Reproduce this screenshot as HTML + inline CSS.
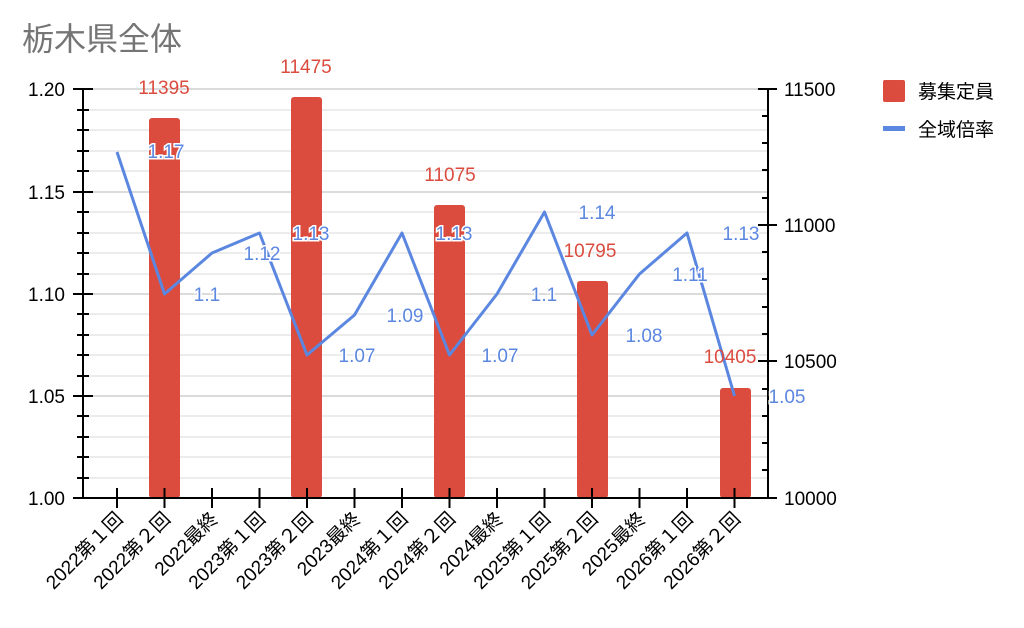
<!DOCTYPE html><html><head><meta charset="utf-8"><style>body{margin:0;background:#fff}svg{display:block}text{font-family:"Liberation Sans","Noto Sans CJK JP",sans-serif}</style></head><body>
<svg width="1024" height="628" xmlns="http://www.w3.org/2000/svg">
<text x="22" y="50" font-size="32" fill="#757575">栃木県全体</text>
<g stroke="#e0e0e0" stroke-width="1.3">
<line x1="83" x2="768" y1="110" y2="110"/><line x1="83" x2="768" y1="130" y2="130"/><line x1="83" x2="768" y1="151" y2="151"/><line x1="83" x2="768" y1="171" y2="171"/><line x1="83" x2="768" y1="212" y2="212"/><line x1="83" x2="768" y1="233" y2="233"/><line x1="83" x2="768" y1="253" y2="253"/><line x1="83" x2="768" y1="274" y2="274"/><line x1="83" x2="768" y1="314" y2="314"/><line x1="83" x2="768" y1="335" y2="335"/><line x1="83" x2="768" y1="355" y2="355"/><line x1="83" x2="768" y1="376" y2="376"/><line x1="83" x2="768" y1="416" y2="416"/><line x1="83" x2="768" y1="437" y2="437"/><line x1="83" x2="768" y1="457" y2="457"/><line x1="83" x2="768" y1="478" y2="478"/>
</g>
<g stroke="#cfcfcf" stroke-width="1.5"><line x1="83" x2="768" y1="89" y2="89"/><line x1="83" x2="768" y1="192" y2="192"/><line x1="83" x2="768" y1="294" y2="294"/><line x1="83" x2="768" y1="396" y2="396"/></g>
<g fill="#db4c3f">
<rect x="149" y="118" width="31" height="380" rx="3"/>
<rect x="291" y="97" width="31" height="401" rx="3"/>
<rect x="434" y="205" width="31" height="293" rx="3"/>
<rect x="577" y="281" width="31" height="217" rx="3"/>
<rect x="720" y="388" width="31" height="110" rx="3"/>
</g>
<g stroke="#000" stroke-width="2" fill="none">
<line x1="83" y1="89" x2="83" y2="498"/><line x1="768" y1="89" x2="768" y2="498"/><line x1="83" y1="498" x2="768" y2="498"/>
<path d="M73 89H93M73 192H93M73 294H93M73 396H93M73 498H93M77 110H89M77 130H89M77 151H89M77 171H89M77 212H89M77 233H89M77 253H89M77 274H89M77 314H89M77 335H89M77 355H89M77 376H89M77 416H89M77 437H89M77 457H89M77 478H89"/>
<path d="M758 89H777M758 225H777M758 361H777M758 498H777M762 116H768M762 143H768M762 170H768M762 198H768M762 252H768M762 279H768M762 307H768M762 334H768M762 389H768M762 416H768M762 443H768M762 470H768"/>
<path d="M117 488V508M164.5 488V508M212 488V508M259.5 488V508M307 488V508M354.5 488V508M402 488V508M449.5 488V508M497 488V508M544.5 488V508M592 488V508M639.5 488V508M687 488V508M734.5 488V508"/>
</g>
<polyline fill="none" stroke="#5b87e0" stroke-width="3" stroke-linejoin="round" points="117,152 164.5,294 212,253 259.5,233 307,355 354.5,315 402,233 449.5,355 497,294 544.5,212 592,335 639.5,274 687,233 734.5,396"/>
<g font-size="19" fill="#000">
<text x="65" y="96" text-anchor="end">1.20</text><text x="65" y="199" text-anchor="end">1.15</text><text x="65" y="301" text-anchor="end">1.10</text><text x="65" y="403" text-anchor="end">1.05</text><text x="65" y="505" text-anchor="end">1.00</text>
<text x="784" y="96">11500</text><text x="784" y="232">11000</text><text x="784" y="368">10500</text><text x="784" y="505">10000</text>
</g>
<g font-size="19" fill="#db4c3f" text-anchor="middle">
<text x="164" y="94">11395</text><text x="306" y="73">11475</text><text x="450" y="181">11075</text><text x="590" y="257">10795</text><text x="730" y="363">10405</text>
</g>
<g font-size="19" fill="#5b87e0" text-anchor="middle" stroke="#fff" stroke-width="3" paint-order="stroke">
<text x="166" y="158">1.17</text><text x="207" y="301">1.1</text><text x="262" y="260">1.12</text><text x="311" y="240">1.13</text><text x="357" y="362">1.07</text><text x="405" y="322">1.09</text><text x="454" y="240">1.13</text><text x="500" y="362">1.07</text><text x="544" y="301">1.1</text><text x="597" y="219">1.14</text><text x="644" y="342">1.08</text><text x="690" y="281">1.11</text><text x="741" y="240">1.13</text><text x="787" y="403">1.05</text>
</g>
<g font-size="19" fill="#000" text-anchor="end">
<text transform="translate(124,520) rotate(-45)">2022第１回</text><text transform="translate(171.5,520) rotate(-45)">2022第２回</text><text transform="translate(219,520) rotate(-45)">2022最終</text><text transform="translate(266.5,520) rotate(-45)">2023第１回</text><text transform="translate(314,520) rotate(-45)">2023第２回</text><text transform="translate(361.5,520) rotate(-45)">2023最終</text><text transform="translate(409,520) rotate(-45)">2024第１回</text><text transform="translate(456.5,520) rotate(-45)">2024第２回</text><text transform="translate(504,520) rotate(-45)">2024最終</text><text transform="translate(551.5,520) rotate(-45)">2025第１回</text><text transform="translate(599,520) rotate(-45)">2025第２回</text><text transform="translate(646.5,520) rotate(-45)">2025最終</text><text transform="translate(694,520) rotate(-45)">2026第１回</text><text transform="translate(741.5,520) rotate(-45)">2026第２回</text>
</g>
<rect x="883" y="80" width="22" height="22" rx="2" fill="#db4c3f"/>
<text x="918" y="98" font-size="19">募集定員</text>
<rect x="883" y="126" width="22" height="5" fill="#5b87e0"/>
<text x="918" y="136" font-size="19">全域倍率</text>
</svg>
</body></html>
